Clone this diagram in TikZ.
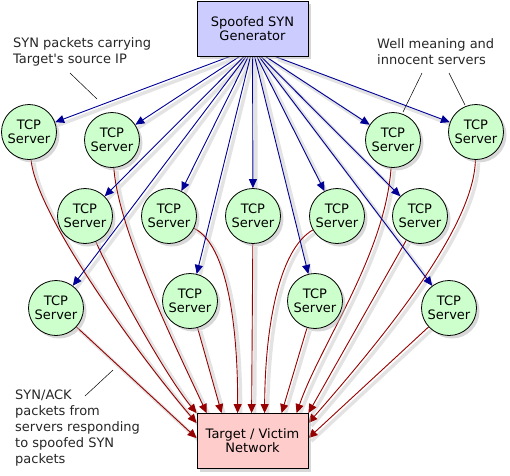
\documentclass[tikz,border=0pt]{standalone}
\usepackage{fontspec}
\setmainfont{DejaVu Sans}[Ligatures=TeXOff]
\usetikzlibrary{arrows.meta,shadows,backgrounds,calc}
\definecolor{genfill}{RGB}{204,204,255}
\definecolor{srvfill}{RGB}{204,255,204}
\definecolor{tgtfill}{RGB}{255,204,204}
\definecolor{synblue}{RGB}{0,0,150}
\definecolor{ackred}{RGB}{150,0,0}
\newcommand\synedges[1]{%
  \foreach \s in {s1,s2,s3,s4,s5,s6,s7,s8,s9,s10,s11,s12,s13}{%
    \draw[#1] (intersection of gc--\s\space and gen.south west--gen.south east) -- (\s);}}
\newcommand\ackedges[1]{%
  \draw[#1] (s1) .. controls (35,210) and (130,345) .. (t1);
  \draw[#1] (s5) .. controls (110,275) and (165,375) .. (t5);
  \draw[#1] (s2) .. controls (118,230) and (175,345) .. (t2);
  \draw[#1] (s10) -- (t10);
  \draw[#1] (s11) -- (t11);
  \draw[#1] (s6) .. controls (228,245) and (238,330) .. (t6);
  \draw[#1] (s7) -- (t7);
  \draw[#1] (s8) .. controls (278,250) and (265,330) .. (t8);
  \draw[#1] (s12) -- (t12);
  \draw[#1] (s3) .. controls (385,255) and (320,345) .. (t3);
  \draw[#1] (s9) -- (t9);
  \draw[#1] (s4) .. controls (474,225) and (390,330) .. (t4);
  \draw[#1] (s13) -- (t13);}
\begin{document}
\begin{tikzpicture}[x=1pt,y=-1pt,
  font=\fontsize{13}{14}\selectfont,
  nshadow/.style={drop shadow={shadow xshift=3pt,shadow yshift=-3pt,fill=black!30}},
  box/.style={draw, line width=0.8pt, minimum width=111pt, minimum height=55pt,
    align=center, inner sep=0pt, nshadow},
  server/.style={circle, draw, line width=0.8pt, fill=srvfill, minimum size=55pt,
    inner sep=0pt, align=center, nshadow},
  note/.style={anchor=north west, align=left, inner sep=0pt,
    font=\fontsize{13}{16}\selectfont, text=black!85},
  syn/.style={draw=synblue, line width=0.9pt, -{Triangle[length=9pt,width=8pt]}, fill=none},
  ack/.style={draw=ackred, line width=0.9pt, -{Triangle[length=9pt,width=8pt]}, fill=none},
  eshadow/.style={draw=black!11, line width=3.5pt, -, transform canvas={shift={(3pt,-3pt)}}},
  pointer/.style={draw=black, line width=0.5pt}]
\useasboundingbox (0,0) rectangle (510,475);
\node[box, fill=genfill] (gen) at (252.5,28.5) {Spoofed SYN\\Generator};
\coordinate (gc) at (252.5,48);
\node[box, fill=tgtfill] (tgt) at (252.5,441) {Target / Victim\\Network};
\node[server] (s1) at (29,132) {TCP\\Server};
\node[server] (s2) at (112,140) {TCP\\Server};
\node[server] (s3) at (393,140) {TCP\\Server};
\node[server] (s4) at (476,132) {TCP\\Server};
\node[server] (s5) at (85,216) {TCP\\Server};
\node[server] (s6) at (169,216) {TCP\\Server};
\node[server] (s7) at (253,216) {TCP\\Server};
\node[server] (s8) at (337,216) {TCP\\Server};
\node[server] (s9) at (420,216) {TCP\\Server};
\node[server] (s10) at (56,308) {TCP\\Server};
\node[server] (s11) at (190,301) {TCP\\Server};
\node[server] (s12) at (315,301) {TCP\\Server};
\node[server] (s13) at (449,308) {TCP\\Server};
\coordinate (t1) at ($(tgt.north west)+(0,10)$);
\coordinate (t10) at ($(tgt.north west)+(0,25)$);
\coordinate (t5) at (tgt.north west);
\coordinate (t2) at ($(tgt.north west)+(10,0)$);
\coordinate (t11) at ($(tgt.north west)+(25,0)$);
\coordinate (t6) at ($(tgt.north west)+(41,0)$);
\coordinate (t7) at ($(tgt.north west)+(55,0)$);
\coordinate (t8) at ($(tgt.north west)+(68,0)$);
\coordinate (t12) at ($(tgt.north west)+(85,0)$);
\coordinate (t3) at ($(tgt.north west)+(100,0)$);
\coordinate (t9) at (tgt.north east);
\coordinate (t4) at ($(tgt.north east)+(0,10)$);
\coordinate (t13) at ($(tgt.north east)+(0,25)$);
\begin{scope}[on background layer]
  \ackedges{eshadow}
  \synedges{eshadow}
  \ackedges{ack}
  \synedges{syn}
\end{scope}
\node[note] (n1) at (13,37.5) {SYN packets carrying\\Target's source IP};
\node[note] (n2) at (377,38.5) {Well meaning and\\innocent servers};
\node[note] (n3) at (15,390) {SYN/ACK\\packets from\\servers responding\\to spoofed SYN\\packets};
\coordinate (p1a) at (70,73);
\coordinate (p1b) at (97,99);
\coordinate (p2a) at (422,73);
\coordinate (p2b) at (403,112);
\coordinate (p3a) at (449,73);
\coordinate (p3b) at (465,105);
\coordinate (p4a) at (85,396);
\coordinate (p4b) at (113,370);
\draw[pointer] (p1a) -- (p1b);
\draw[pointer] (p2a) -- (p2b);
\draw[pointer] (p3a) -- (p3b);
\draw[pointer] (p4a) -- (p4b);
\end{tikzpicture}
\end{document}
